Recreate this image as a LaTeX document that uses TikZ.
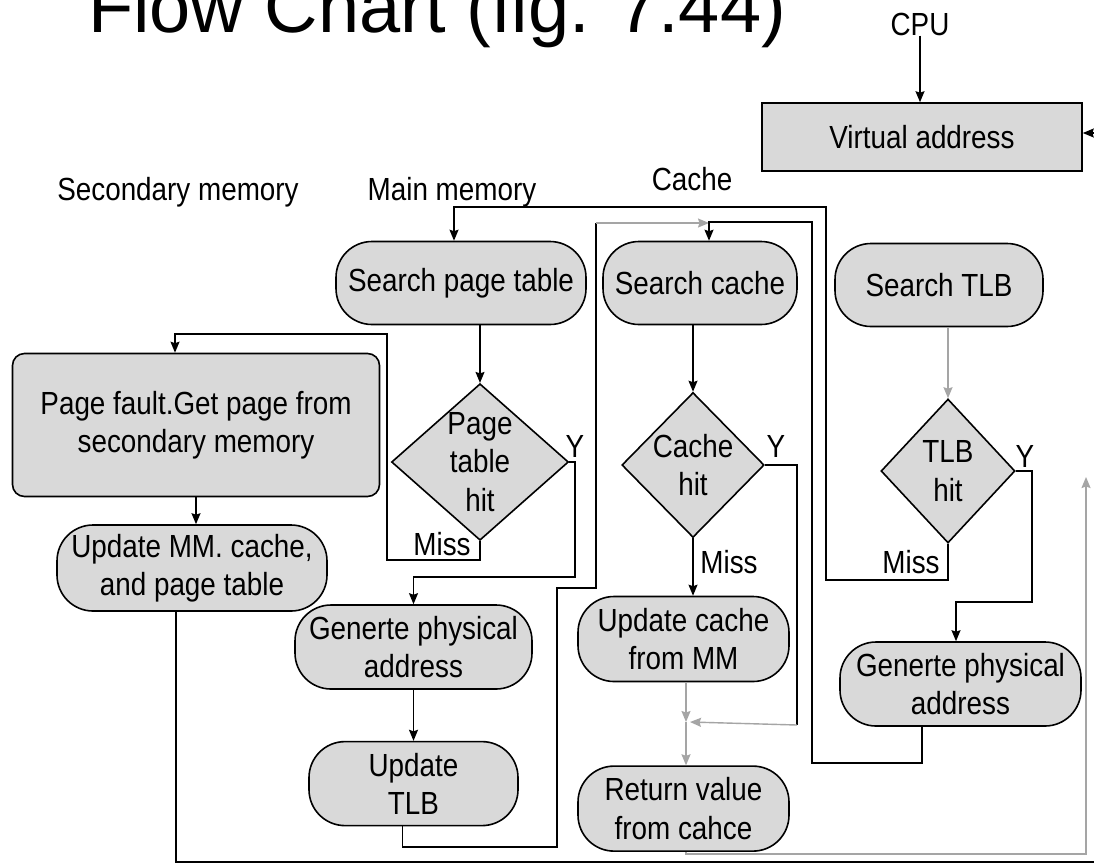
\documentclass[tikz,border=0pt]{standalone}
\usepackage{fontspec}
\setmainfont{Liberation Sans}
\newfontfamily\narrowfont{Liberation Sans}[FakeStretch=0.87]
\usetikzlibrary{positioning,arrows.meta,shapes.geometric}
\definecolor{boxgray}{RGB}{217,217,217}
\definecolor{linegray}{RGB}{165,165,165}

\begin{document}
\begin{tikzpicture}[x=1pt, y=-1pt,
    every node/.style={font=\narrowfont\fontsize{32}{38.4}\selectfont},
    term/.style={draw, line width=1.6pt, fill=boxgray, rounded corners=36pt, align=center, inner sep=2pt},
    decide/.style={draw, diamond, line width=1.6pt, fill=boxgray, align=center, inner sep=0pt},
    lbl/.style={anchor=base, inner sep=0pt},
    arr/.style={-{Stealth[length=11pt,width=9pt,inset=1.5pt]}, line width=1.4pt},
    ln/.style={line width=1.4pt},
    garr/.style={arr, draw=linegray}
]
\fill[white] (0,0) rectangle (1094,863);
\useasboundingbox (0,0) rectangle (1094,863);

\node[anchor=base west, inner sep=0pt, font=\fontsize{74}{80}\selectfont] (title) at (88,32) {Flow Chart (fig. 7.44)};
\node[lbl] (cpu) at (920,35) {CPU};
\node[draw, line width=1.6pt, fill=boxgray, minimum width=320pt, minimum height=68pt] (va) at (922,137) {Virtual address};
\node[lbl] (secmem) at (178,200) {Secondary memory};
\node[lbl] (mainmem) at (452,200) {Main memory};
\node[lbl] (cachelbl) at (692,190) {Cache};

\node[term, minimum width=250pt, minimum height=83pt] (spt) at (461,283) {Search page table};
\node[term, minimum width=194pt, minimum height=83pt] (sc) at (700,283) {Search cache};
\node[term, minimum width=208pt, minimum height=83pt] (stlb) at (939,285) {Search TLB};

\node[decide, aspect=1.13, minimum width=174pt, minimum height=155pt] (pth) at (480,462) {Page\\table\\hit};
\node[decide, minimum width=132pt, minimum height=145pt] (ch) at (693,465) {Cache\\hit};
\node[decide, minimum width=134pt, minimum height=144pt] (tlbh) at (948,471) {TLB\\hit};

\node[draw, line width=1.6pt, fill=boxgray, rounded corners=12pt, align=center, minimum width=367pt, minimum height=143pt] (pf) at (196,425) {Page fault.Get page from\\secondary memory};
\node[term, minimum width=270pt, minimum height=86pt] (upmm) at (192,568) {Update MM. cache,\\and page table};
\node[term, minimum width=237pt, minimum height=84pt] (gpa1) at (413.5,647) {Generte physical\\address};
\node[term, minimum width=209pt, minimum height=84pt, below=51pt of gpa1] (utlb) {Update\\TLB};
\node[term, minimum width=211pt, minimum height=85pt] (ucache) at (683.5,639) {Update cache\\from MM};
\node[term, minimum width=211pt, minimum height=85pt, below=83pt of ucache] (rv) {Return value\\from cahce};
\node[term, minimum width=241pt, minimum height=84pt] (gpa2) at (960.5,684) {Generte physical\\address};

\node[lbl] (pthmiss) at (442,555) {Miss};
\node[lbl] (pthy) at (575,457) {Y};
\node[lbl] (chmiss) at (729,573) {Miss};
\node[lbl] (chy) at (776,457) {Y};
\node[lbl] (tlbmiss) at (911,573) {Miss};
\node[lbl] (tlby) at (1025,467) {Y};

\coordinate (scjoin) at (709,222);
\coordinate (tlbret) at (596,223);
\coordinate (chret) at (797,725);
\coordinate (merge) at (686,722);
\coordinate (rvup) at (1086,477);

\draw[arr] (cpu.south) -- (cpu.south |- va.north);
\draw[arr] ([xshift=-16pt]upmm.south) |- (1110,862) |- ([yshift=4pt]va.east);
\draw[arr] (pth.north |- spt.south) -- (pth.north);
\draw[arr] (pth.south) |- (387,560) |- (175,334) -- ([xshift=-21pt]pf.north);
\draw[arr] (pth.east) -| (575,577) -| (gpa1.north);
\draw[arr] (pf.south) -- (pf.south |- upmm.north);
\draw[arr] (utlb.north |- gpa1.south) -- (utlb.north);
\draw[ln] ([xshift=-11pt]utlb.south) |- (557,847) |- (596,588) -- (tlbret);
\draw[garr] (tlbret) -- (tlbret -| scjoin);
\draw[arr] (ch.north |- sc.south) -- (ch.north);
\draw[arr] (ch.south) -- (ch.south |- ucache.north);
\draw[ln] (ch.east) -| (chret);
\draw[garr] (chret) -- ([xshift=4pt]merge);
\draw[garr] (ucache.south -| merge) -- (merge);
\draw[garr] (merge) -- (merge |- rv.north);
\draw[garr] (rv.south -| merge) |- (1086,854) -- (rvup);
\draw[garr] (tlbh.north |- stlb.south) -- (tlbh.north);
\draw[arr] (tlbh.south) |- (826,580) |- (454,207) -- ([xshift=-7pt]spt.north);
\draw[arr] (tlbh.east) -| (1032,602) -| ([xshift=-4.5pt]gpa2.north);
\draw[arr] ([xshift=-38.5pt]gpa2.south) |- (812,763) |- (scjoin) -- (scjoin |- sc.north);
\end{tikzpicture}
\end{document}
